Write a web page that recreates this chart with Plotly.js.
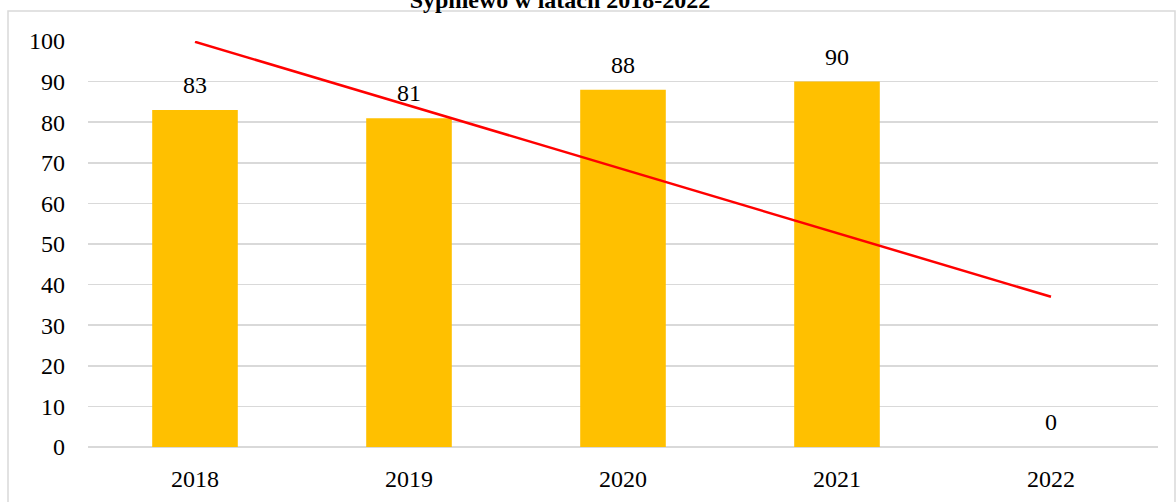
<!DOCTYPE html>
<html>
<head>
<meta charset="utf-8">
<script src="https://cdn.plot.ly/plotly-3.0.1.min.js"></script>
<style>
html,body{margin:0;padding:0;background:#fff;}
#chart{width:1176px;height:502px;}
</style>
</head>
<body>
<div id="chart"></div>
<script>
const years = ['2018', '2019', '2020', '2021', '2022'];
const values = [83, 81, 88, 90, 0];
const titleText = 'Sypniewo w latach 2018-2022';

// linear trend (least squares) over the series, as in the original trendline
const n = values.length;
const idx = values.map((_, i) => i);
const mx = idx.reduce((a, b) => a + b, 0) / n;
const my = values.reduce((a, b) => a + b, 0) / n;
let sxy = 0, sxx = 0;
idx.forEach(i => { sxy += (i - mx) * (values[i] - my); sxx += (i - mx) * (i - mx); });
const slope = sxy / sxx;
const trendY = [my + slope * (0 - mx), my + slope * (n - 1 - mx)];
const trendX = [years[0], years[n - 1]];

const font = {family: '"Liberation Serif", "Times New Roman", serif', color: '#000000'};

const data = [
  {
    type: 'bar', x: years, y: values,
    marker: {color: '#FFC000'}, width: 0.4,
    hoverinfo: 'x+y', showlegend: false
  },
  {
    type: 'scatter', mode: 'lines', x: trendX, y: trendY,
    line: {color: '#FF0000', width: 2.5}, showlegend: false, hoverinfo: 'skip'
  }
];

const annotations = years.map((yr, i) => ({
  x: i, y: values[i], xref: 'x', yref: 'y',
  text: String(values[i]), showarrow: false,
  yanchor: 'middle', yshift: 25,
  font: Object.assign({}, font, {size: 24})
}));

const layout = {
  width: 1176, height: 502,
  margin: {l: 88, r: 18, t: 41, b: 55},
  paper_bgcolor: '#ffffff', plot_bgcolor: '#ffffff',
  font: font,
  title: {
    text: '<b>' + titleText + '</b>',
    font: Object.assign({}, font, {size: 24}),
    x: 560 / 1176, xanchor: 'center', xref: 'container',
    y: 1.0, yanchor: 'middle', yref: 'container'
  },
  bargap: 0.6,
  xaxis: {
    type: 'category', range: [-0.5, 4.5], autorange: false,
    showgrid: false, zeroline: false, showline: false,
    ticks: '', tickfont: Object.assign({}, font, {size: 24}),
    ticklabelstandoff: 15, fixedrange: true
  },
  yaxis: {
    range: [0, 100], autorange: false, dtick: 10, showgrid: true, gridcolor: '#d9d9d9', gridwidth: 1.5,
    zeroline: true, zerolinecolor: '#d9d9d9', zerolinewidth: 1.5, showline: false,
    ticks: '', tickfont: Object.assign({}, font, {size: 24}),
    ticklabelstandoff: 22, fixedrange: true
  },
  annotations: annotations,
  shapes: [{
    type: 'rect', xref: 'paper', yref: 'paper',
    x0: (8 - 88) / 1070, x1: (1175 - 88) / 1070,
    y0: -0.3, y1: (447 - 11) / 406,
    line: {color: '#d9d9d9', width: 1.5}, fillcolor: 'rgba(0,0,0,0)', layer: 'below'
  }]
};

Plotly.newPlot('chart', data, layout, {displayModeBar: false, staticPlot: true});
</script>
</body>
</html>
